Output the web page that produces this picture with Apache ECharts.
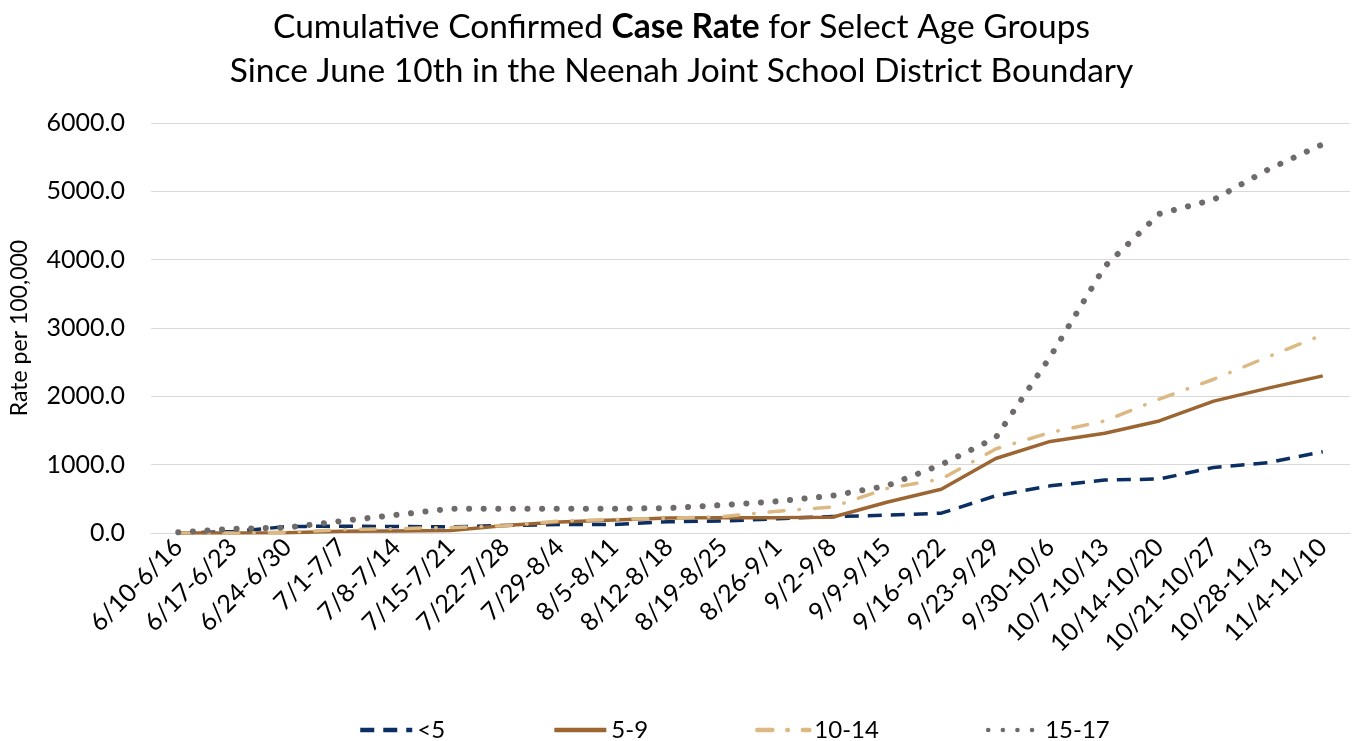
<!DOCTYPE html>
<html>
<head>
<meta charset="utf-8">
<script src="https://cdn.jsdelivr.net/npm/echarts@6/dist/echarts.min.js"></script>
<style>
    html, body { margin: 0; padding: 0; background: #fff; }
    #container { width: 1363px; height: 741px; }
</style>
</head>
<body>
<div id="container"></div>
<script>
    // weekly categories
    var weeks = ['6/10-6/16', '6/17-6/23', '6/24-6/30', '7/1-7/7', '7/8-7/14', '7/15-7/21',
        '7/22-7/28', '7/29-8/4', '8/5-8/11', '8/12-8/18', '8/19-8/25', '8/26-9/1', '9/2-9/8',
        '9/9-9/15', '9/16-9/22', '9/23-9/29', '9/30-10/6', '10/7-10/13', '10/14-10/20',
        '10/21-10/27', '10/28-11/3', '11/4-11/10'];

    var under5 = [0, 20, 95, 100, 95, 90, 110, 125, 125, 165, 175, 210, 240, 260, 290, 545, 690, 775, 790, 960, 1030, 1190];
    var age5to9 = [0, 0, 5, 25, 30, 35, 110, 160, 190, 220, 225, 225, 230, 450, 640, 1090, 1340, 1460, 1640, 1930, 2120, 2300];
    var age10to14 = [0, 0, 10, 50, 65, 80, 105, 175, 200, 215, 240, 320, 380, 650, 790, 1230, 1470, 1640, 1960, 2250, 2580, 2900];
    var age15to17 = [10, 60, 80, 175, 265, 355, 355, 355, 355, 365, 410, 465, 545, 690, 1000, 1395, 2580, 3900, 4670, 4880, 5320, 5690];

    var yTicks = [0, 1000, 2000, 3000, 4000, 5000, 6000];

    var font = 'Lato, "Open Sans", sans-serif';
    var chart = echarts.init(document.getElementById('container'));

    function line(name, data, color, dash, width, cap) {
        return {
            name: name,
            type: 'line',
            data: data,
            symbol: 'none',
            lineStyle: {color: color, width: width, type: dash, cap: cap || 'butt'},
            itemStyle: {color: color}
        };
    }

    chart.setOption({
        animation: false,
        textStyle: {fontFamily: font},
        title: {
            left: 'center',
            top: 0,
            text: '{n|Cumulative Confirmed }{b|Case Rate}{n| for Select Age Groups}\n{n|Since June 10th in the Neenah Joint School District Boundary}',
            textStyle: {
                fontWeight: 'normal',
                rich: {
                    n: {fontFamily: font, fontSize: 33.5, color: '#000', fontWeight: 'normal', lineHeight: 44},
                    b: {fontFamily: font, fontSize: 33.5, color: '#000', fontWeight: 'bold', lineHeight: 44}
                }
            }
        },
        grid: {left: 148, right: 13, top: 123, bottom: 208},
        legend: {
            left: 353,
            top: 713,
            itemWidth: 52,
            itemHeight: 14,
            itemGap: 107,
            itemStyle: {opacity: 0},
            lineStyle: {width: 4.5},
            textStyle: {fontFamily: font, fontSize: 24, color: '#000'},
            data: ['<5', '5-9', '10-14', '15-17']
        },
        xAxis: {
            type: 'category',
            data: weeks,
            boundaryGap: true,
            axisLine: {lineStyle: {color: '#d9d9d9', width: 1}},
            axisTick: {show: false},
            axisLabel: {rotate: 45, interval: 0, fontSize: 25, color: '#000', fontFamily: font, margin: 10}
        },
        yAxis: {
            type: 'value',
            min: yTicks[0],
            max: yTicks[yTicks.length - 1],
            interval: 1000,
            name: 'Rate per 100,000',
            nameLocation: 'middle',
            nameGap: 120,
            nameRotate: 90,
            nameTextStyle: {fontSize: 23, color: '#000', fontFamily: font},
            axisLine: {show: false},
            axisTick: {show: false},
            axisLabel: {fontSize: 25, color: '#000', fontFamily: font, margin: 26,
                formatter: function (v) { return v.toFixed(1); }},
            splitLine: {lineStyle: {color: '#d9d9d9', width: 1}}
        },
        series: [
            line('<5', under5, '#0b2f63', [14, 9], 3.5),
            line('5-9', age5to9, '#9c6632', 'solid', 3.5),
            line('10-14', age10to14, '#dcb883', [15, 15, 0.5, 15], 3.5, 'round'),
            line('15-17', age15to17, '#6f6b6b', [0.1, 14.5], 6, 'round')
        ]
    });
</script>
</body>
</html>
